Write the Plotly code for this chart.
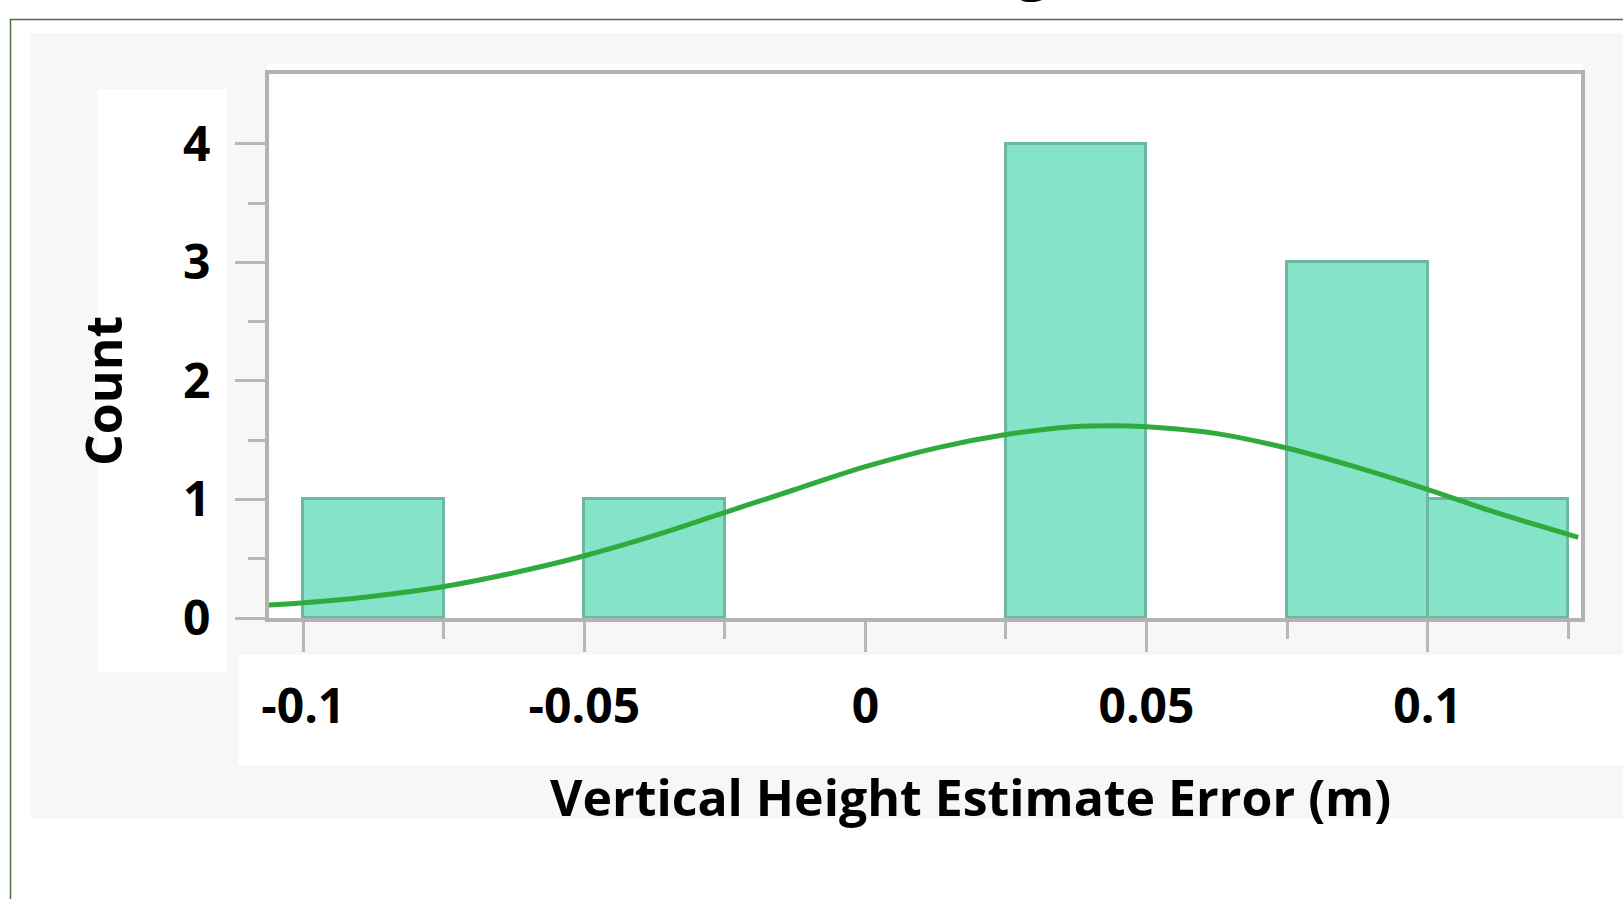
import plotly.graph_objects as go

# ---- data ----
bin_centers = [-0.0875, -0.0375, 0.0375, 0.0875, 0.1125]
counts = [1, 1, 4, 3, 1]
bin_width = 0.025

curve_x = [-0.1062, -0.1004, -0.0884, -0.0752, -0.063, -0.0506, -0.0382, -0.0255,
           -0.0128, 0.0, 0.0131, 0.0245, 0.0369, 0.0445, 0.05, 0.0623, 0.0751,
           0.087, 0.0994, 0.1117, 0.1268]
curve_y = [0.11, 0.127, 0.18, 0.264, 0.377, 0.517, 0.686, 0.883,
           1.08, 1.277, 1.44, 1.544, 1.614, 1.623, 1.614, 1.558, 1.432,
           1.277, 1.094, 0.897, 0.681]

x_tickvals = [-0.1, -0.05, 0, 0.05, 0.1]
x_ticktext = ["-0.1", "-0.05", "0", "0.05", "0.1"]
x_minor_tickvals = [-0.075, -0.025, 0.025, 0.075, 0.125]
y_tickvals = [0, 1, 2, 3, 4]
y_ticktext = ["0", "1", "2", "3", "4"]
y_minor_tickvals = [0.5, 1.5, 2.5, 3.5]

x_title = "Vertical Height Estimate Error (m)"
y_title = "Count"

# ---- layout geometry (pixels) ----
W, H = 1623, 899
L, R, T, B = 269, 1581, 74, 618
pw, ph = R - L, B - T


def px(x):
    return (x - L) / pw


def py(y):
    return (B - y) / ph


FONT = "Open Sans, Liberation Sans, Arial, sans-serif"

fig = go.Figure()
fig.add_trace(go.Bar(
    x=bin_centers, y=counts, width=[bin_width] * len(counts),
    marker=dict(color="#84e3c9", line=dict(color="#6cb9a0", width=3)),
    showlegend=False,
))
fig.add_trace(go.Scatter(
    x=curve_x, y=curve_y, mode="lines",
    line=dict(color="#2eab3c", width=5, shape="spline"),
    showlegend=False,
))

shapes = [
    # outer border
    dict(type="rect", xref="paper", yref="paper", x0=px(10.5), x1=px(1700), y0=py(19.5), y1=py(1000),
         line=dict(color="#4f6f3f", width=1.5), fillcolor="rgba(0,0,0,0)", layer="below"),
    # light grey panel
    dict(type="rect", xref="paper", yref="paper", x0=px(31), x1=px(1700), y0=py(33), y1=py(819),
         line=dict(width=0), fillcolor="#f7f7f7", layer="below"),
    # white box behind y tick labels
    dict(type="rect", xref="paper", yref="paper", x0=px(97), x1=px(227), y0=py(89), y1=py(672),
         line=dict(width=0), fillcolor="#ffffff", layer="below"),
    # white box behind x tick labels
    dict(type="rect", xref="paper", yref="paper", x0=px(238), x1=px(1700), y0=py(655), y1=py(765),
         line=dict(width=0), fillcolor="#ffffff", layer="below"),
    # white strip above plot
    dict(type="rect", xref="paper", yref="paper", x0=px(267), x1=px(1583), y0=py(64), y1=py(72),
         line=dict(width=0), fillcolor="#ffffff", layer="below"),
    # plot area background
    dict(type="rect", xref="paper", yref="paper", x0=0, x1=1, y0=0, y1=1,
         line=dict(width=0), fillcolor="#ffffff", layer="below"),
]

annotations = [
    dict(text=x_title, xref="paper", yref="paper", x=px(970), y=py(797),
         xanchor="center", yanchor="middle", showarrow=False,
         font=dict(family=FONT, size=50, color="#000000", weight="bold")),
    dict(text=y_title, xref="paper", yref="paper", x=px(103), y=py(391),
         xanchor="center", yanchor="middle", showarrow=False, textangle=-90,
         font=dict(family=FONT, size=50, color="#000000", weight="bold")),
    # tail of the cut-off title at the very top
    dict(text="g", xref="paper", yref="paper", x=px(1033), y=py(-36),
         xanchor="center", yanchor="middle", showarrow=False,
         font=dict(family=FONT, size=60, color="#000000", weight="bold")),
]

axis_common = dict(
    showline=True, mirror=True, linecolor="#b3b3b3", linewidth=4,
    showgrid=False, zeroline=False,
    ticks="outside", ticklen=30, tickwidth=3, tickcolor="#b8b8b8",
    tickfont=dict(family=FONT, size=48, color="#000000", weight="bold"),
)

fig.update_layout(
    width=W, height=H,
    margin=dict(l=L, r=W - R, t=T, b=H - B, autoexpand=False),
    paper_bgcolor="#ffffff", plot_bgcolor="rgba(0,0,0,0)",
    bargap=0,
    shapes=shapes, annotations=annotations,
    xaxis=dict(range=[-0.1061, 0.1273], tickvals=x_tickvals, ticktext=x_ticktext,
               ticklabelstandoff=13,
               minor=dict(tickvals=x_minor_tickvals, ticks="outside", ticklen=17,
                          tickwidth=3, tickcolor="#b8b8b8"),
               **axis_common),
    yaxis=dict(range=[0, 4.59], tickvals=y_tickvals, ticktext=y_ticktext,
               ticklabelstandoff=15,
               minor=dict(tickvals=y_minor_tickvals, ticks="outside", ticklen=17,
                          tickwidth=3, tickcolor="#b8b8b8"),
               **axis_common),
)

fig.write_html("out.html", config={"displayModeBar": False},
               post_script="document.body.style.margin='0';document.body.style.overflow='hidden';")
